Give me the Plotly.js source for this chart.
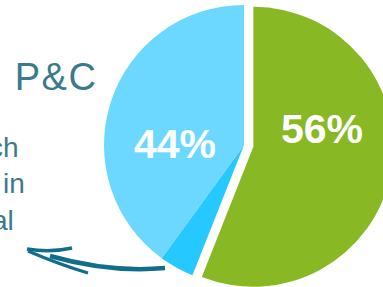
<!DOCTYPE html>
<html>
<head>
<meta charset="utf-8">
<script src="https://cdn.plot.ly/plotly-3.0.1.min.js"></script>
<style>
  html, body { margin: 0; padding: 0; width: 383px; height: 287px; overflow: hidden; background: #fff; }
  #chart { position: absolute; left: 0; top: -10px; width: 420px; height: 310px; }
</style>
</head>
<body>
<div id="chart"></div>
<script>
// ---- data ----
var sliceNames = ["Green share", "Blue share (part)", "Blue share"];
var sliceValues = [56, 4, 40];
var sliceColors = ["#89b825", "#26c9ff", "#6cd8ff"];
var slicePull = [0.068, 0, 0];
var groupLabels = ["56%", "44%"];
var titleText = "P&C";
var sideLines = ["ch", "in", "al"];

// ---- layout helpers (pixels -> paper) ----
var W = 420, H = 310, OFFY = 10;
function px(x) { return x / W; }
function py(y) { return 1 - (y + OFFY) / H; }

var CX = 244, CY = 145, R = 140;
var maxPull = Math.max.apply(null, slicePull);
var half = R * (1 + maxPull);

var trace = {
  type: "pie",
  labels: sliceNames,
  values: sliceValues,
  sort: false,
  direction: "clockwise",
  rotation: 0,
  pull: slicePull,
  marker: { colors: sliceColors, line: { width: 0 } },
  textinfo: "none",
  hoverinfo: "label+percent",
  domain: {
    x: [px(CX - half), px(CX + half)],
    y: [py(CY + half), py(CY - half)]
  }
};

var teal = "#3b7a8b";
var labelFont = { family: "Liberation Sans, Arial, sans-serif", size: 41, color: "#ffffff", weight: "bold" };
var annotations = [
  { text: groupLabels[0], x: px(322), y: py(129), xref: "paper", yref: "paper", showarrow: false,
    xanchor: "center", yanchor: "middle", font: labelFont },
  { text: groupLabels[1], x: px(174.5), y: py(144), xref: "paper", yref: "paper", showarrow: false,
    xanchor: "center", yanchor: "middle", font: labelFont },
  { text: titleText, x: px(15), y: py(77.5), xref: "paper", yref: "paper", showarrow: false,
    xanchor: "left", yanchor: "middle",
    font: { family: "Liberation Sans, Arial, sans-serif", size: 38, color: teal } }
];
var lineRight = [21, 27, 16];
var lineMid = [147.5, 183.5, 220.5];
sideLines.forEach(function (t, i) {
  annotations.push({ text: t, x: px(lineRight[i]), y: py(lineMid[i]), xref: "paper", yref: "paper",
    showarrow: false, xanchor: "right", yanchor: "middle",
    font: { family: "Liberation Sans, Arial, sans-serif", size: 28, color: teal } });
});

function P(x, y) { return px(x) + "," + py(y); }
var arrowColor = "#106d8c";
var shapes = [
  { type: "path", xref: "paper", yref: "paper",
    path: "M" + P(27, 249) + " Q" + P(50, 253) + " " + P(72, 248),
    line: { color: arrowColor, width: 3.5 } },
  { type: "path", xref: "paper", yref: "paper",
    path: "M" + P(28, 251) + " Q" + P(58, 264) + " " + P(88, 273),
    line: { color: arrowColor, width: 3 } },
  { type: "path", xref: "paper", yref: "paper",
    path: "M" + P(50, 256) + " Q" + P(110, 273) + " " + P(165, 268),
    line: { color: arrowColor, width: 4.5 } }
];

var layout = {
  width: W, height: H,
  margin: { l: 0, r: 0, t: 0, b: 0, pad: 0 },
  paper_bgcolor: "#ffffff",
  showlegend: false,
  annotations: annotations,
  shapes: shapes
};

Plotly.newPlot("chart", [trace], layout, { staticPlot: true, displayModeBar: false }).then(function (gd) {
  var t = gd.querySelectorAll(".annotation-text");
  if (t[2]) t[2].style.letterSpacing = "1.5px";
});
</script>
</body>
</html>
